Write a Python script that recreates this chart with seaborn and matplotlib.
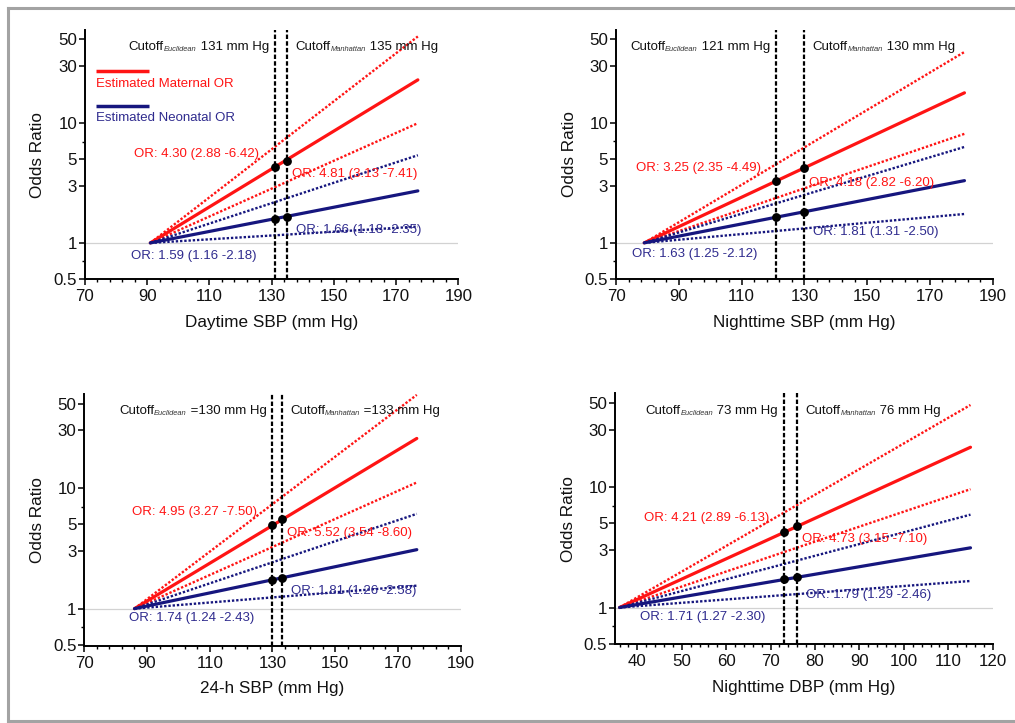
import numpy as np
import matplotlib
matplotlib.use("Agg")
import matplotlib.pyplot as plt
import seaborn as sns
from matplotlib.offsetbox import TextArea, HPacker, AnnotationBbox
from matplotlib.lines import Line2D
from matplotlib.ticker import FixedLocator, NullFormatter

# ------------------------------------------------------------------ data
x_labels = ["Daytime SBP (mm Hg)", "Nighttime SBP (mm Hg)",
            "24-h SBP (mm Hg)", "Nighttime DBP (mm Hg)"]
cutoff_euclidean = [131, 121, 130, 73]
cutoff_manhattan = [135, 130, 133, 76]
cutoff_joiner = [" ", " ", " =", " "]

maternal_or_euc = [4.30, 3.25, 4.95, 4.21]
maternal_lo_euc = [2.88, 2.35, 3.27, 2.89]
maternal_hi_euc = [6.42, 4.49, 7.50, 6.13]
maternal_or_man = [4.81, 4.18, 5.52, 4.73]
maternal_lo_man = [3.13, 2.82, 3.54, 3.15]
maternal_hi_man = [7.41, 6.20, 8.60, 7.10]

neonatal_or_euc = [1.59, 1.63, 1.74, 1.71]
neonatal_lo_euc = [1.16, 1.25, 1.24, 1.27]
neonatal_hi_euc = [2.18, 2.12, 2.43, 2.30]
neonatal_or_man = [1.66, 1.81, 1.81, 1.79]
neonatal_lo_man = [1.18, 1.31, 1.26, 1.29]
neonatal_hi_man = [2.35, 2.50, 2.58, 2.46]

# estimated OR lines: start at OR = 1, end values
line_x_start = [91, 79, 86, 36]
line_x_end = [177, 181, 176, 115]
maternal_end = [23.0, 17.8, 25.7, 21.4]
maternal_end_lo = [10.0, 8.1, 11.1, 9.6]
maternal_end_hi = [53.0, 39.0, 59.0, 48.0]
neonatal_end = [2.72, 3.30, 3.08, 3.13]
neonatal_end_lo = [1.37, 1.74, 1.55, 1.66]
neonatal_end_hi = [5.4, 6.3, 6.1, 5.9]

y_ticks = [0.5, 1, 3, 5, 10, 30, 50]
y_tick_labels = ["0.5", "1", "3", "5", "10", "30", "50"]
y_minor = [0.7, 7]

# ------------------------------------------------------------------ layout / style
W, H = 1015, 723
axes_px = [(85.0, 458.3, 30.0, 279.5), (616.0, 992.7, 29.5, 279.5),
           (84.3, 460.7, 394.0, 645.5), (615.1, 992.7, 393.3, 644.3)]
xlims = [(70, 190), (70, 190), (70, 190), (35, 120)]
x_major = [np.arange(70, 191, 20)] * 3 + [np.arange(40, 121, 10)]
x_minor = [np.arange(70, 191, 4)] * 3 + [np.arange(36, 121, 2)]
ylim = (0.495, 60)

# text positions in data coordinates (x, OR)
label_pos = [
    dict(ml=(126.0, 5.57), mr=(136.7, 3.79), nr=(137.8, 1.29), nl=(125.2, 0.772)),
    dict(ml=(116.2, 4.19), mr=(131.6, 3.14), nr=(132.9, 1.23), nl=(115.0, 0.811)),
    dict(ml=(125.0, 6.33), mr=(134.5, 4.24), nr=(135.8, 1.41), nl=(124.2, 0.837)),
    dict(ml=(69.6, 5.50), mr=(77.1, 3.69), nr=(77.9, 1.27), nl=(68.9, 0.833)),
]

RED = "#ff1414"
NAVY = "#16167e"
NAVY_TXT = "#2f2b8e"
SMALL = 9.5

sns.set_style("ticks")
plt.rcParams["font.family"] = ["Liberation Sans", "DejaVu Sans"]
plt.rcParams["axes.linewidth"] = 1.4

fig = plt.figure(figsize=(W / 100, H / 100), dpi=100)

# grey frame around the figure (top, left, bottom only)
fx0, fy_top, fy_bot = 8.3 / W, (H - 8.3) / H, (H - 720.8) / H
for xs_, ys_ in (([fx0, 1.0], [fy_top, fy_top]),
                 ([fx0, fx0], [fy_bot, fy_top]),
                 ([fx0, 1.0], [fy_bot, fy_bot])):
    fig.add_artist(Line2D(xs_, ys_, transform=fig.transFigure, color="#a3a3a3",
                          lw=2.2, solid_capstyle="projecting"))

dotted = (0, (1.0, 0.8))


def fmt(v):
    return f"{v:.2f}"


def cutoff_label(ax, x, sub, rest, right_side):
    main_kw = dict(size=SMALL, color="#111111")
    sub_kw = dict(size=5.4, color="#333333", style="italic")
    box = HPacker(children=[TextArea("Cutoff", textprops=main_kw),
                            TextArea(sub, textprops=sub_kw),
                            TextArea(rest, textprops=main_kw)],
                  align="bottom", pad=0, sep=0)
    if right_side:
        ab = AnnotationBbox(box, (x, 0.931), xycoords=("data", "axes fraction"),
                            xybox=(5.8, 0), boxcoords="offset points",
                            box_alignment=(0, 0.5), frameon=False, pad=0)
    else:
        ab = AnnotationBbox(box, (x, 0.931), xycoords=("data", "axes fraction"),
                            xybox=(-4.3, 0), boxcoords="offset points",
                            box_alignment=(1, 0.5), frameon=False, pad=0)
    ab.set_zorder(7)
    ax.add_artist(ab)


for i in range(4):
    l, r, t, b = axes_px[i]
    ax = fig.add_axes([l / W, (H - b) / H, (r - l) / W, (b - t) / H])
    ax.set_yscale("log")

    ax.axhline(1, color="#d2d2d2", lw=0.9, zorder=1)

    xs = [line_x_start[i], line_x_end[i]]
    # maternal
    sns.lineplot(x=xs, y=[1, maternal_end_hi[i]], ax=ax, color=RED, lw=1.7,
                 linestyle=dotted, estimator=None, zorder=3)
    sns.lineplot(x=xs, y=[1, maternal_end_lo[i]], ax=ax, color=RED, lw=1.7,
                 linestyle=dotted, estimator=None, zorder=3)
    sns.lineplot(x=xs, y=[1, maternal_end[i]], ax=ax, color=RED, lw=2.3,
                 estimator=None, zorder=3)
    # neonatal
    sns.lineplot(x=xs, y=[1, neonatal_end_hi[i]], ax=ax, color=NAVY, lw=1.7,
                 linestyle=dotted, estimator=None, zorder=3)
    sns.lineplot(x=xs, y=[1, neonatal_end_lo[i]], ax=ax, color=NAVY, lw=1.7,
                 linestyle=dotted, estimator=None, zorder=3)
    sns.lineplot(x=xs, y=[1, neonatal_end[i]], ax=ax, color=NAVY, lw=2.3,
                 estimator=None, zorder=3)

    for c in (cutoff_euclidean[i], cutoff_manhattan[i]):
        ax.axvline(c, color="black", lw=1.6, linestyle=(0, (2, 1)), zorder=4)

    sns.scatterplot(x=[cutoff_euclidean[i], cutoff_manhattan[i]],
                    y=[maternal_or_euc[i], maternal_or_man[i]],
                    ax=ax, color="black", s=40, linewidth=0, zorder=6, legend=False)
    sns.scatterplot(x=[cutoff_euclidean[i], cutoff_manhattan[i]],
                    y=[neonatal_or_euc[i], neonatal_or_man[i]],
                    ax=ax, color="black", s=40, linewidth=0, zorder=6, legend=False)

    p = label_pos[i]
    ax.text(*p["ml"], f"OR: {fmt(maternal_or_euc[i])} ({fmt(maternal_lo_euc[i])} -{fmt(maternal_hi_euc[i])})",
            color=RED, size=SMALL, ha="right", va="center", zorder=7)
    ax.text(*p["mr"], f"OR: {fmt(maternal_or_man[i])} ({fmt(maternal_lo_man[i])} -{fmt(maternal_hi_man[i])})",
            color=RED, size=SMALL, ha="left", va="center", zorder=7)
    ax.text(*p["nr"], f"OR: {fmt(neonatal_or_man[i])} ({fmt(neonatal_lo_man[i])} -{fmt(neonatal_hi_man[i])})",
            color=NAVY_TXT, size=SMALL, ha="left", va="center", zorder=7)
    ax.text(*p["nl"], f"OR: {fmt(neonatal_or_euc[i])} ({fmt(neonatal_lo_euc[i])} -{fmt(neonatal_hi_euc[i])})",
            color=NAVY_TXT, size=SMALL, ha="right", va="center", zorder=7)

    cutoff_label(ax, cutoff_euclidean[i], "Euclidean",
                 f"{cutoff_joiner[i]}{cutoff_euclidean[i]} mm Hg", right_side=False)
    cutoff_label(ax, cutoff_manhattan[i], "Manhattan",
                 f"{cutoff_joiner[i]}{cutoff_manhattan[i]} mm Hg", right_side=True)

    ax.set_xlim(*xlims[i])
    ax.set_ylim(*ylim)
    ax.xaxis.set_major_locator(FixedLocator(x_major[i]))
    ax.xaxis.set_minor_locator(FixedLocator(x_minor[i]))
    ax.set_xticklabels([str(v) for v in x_major[i]])
    ax.yaxis.set_major_locator(FixedLocator(y_ticks))
    ax.set_yticklabels(y_tick_labels)
    ax.yaxis.set_minor_locator(FixedLocator(y_minor))
    ax.yaxis.set_minor_formatter(NullFormatter())

    ax.tick_params(axis="x", which="major", length=4.6, width=1.1, pad=2.6,
                   labelsize=12.2, color="black", labelcolor="#111111")
    ax.tick_params(axis="x", which="minor", length=2.5, width=1.0, color="black")
    ax.tick_params(axis="y", which="major", length=4.0, width=1.1, pad=1.6,
                   labelsize=12.2, color="black", labelcolor="#111111")
    ax.tick_params(axis="y", which="minor", length=2.5, width=1.0, color="black")

    sns.despine(ax=ax)
    for s in ("left", "bottom"):
        ax.spines[s].set_color("black")

    ax.set_xlabel(x_labels[i], size=12.3, color="#111111")
    ax.set_ylabel("Odds Ratio", size=12.3, color="#111111")
    ax.xaxis.set_label_coords(0.5, -0.143)
    ax.yaxis.set_label_coords(-39.5 / (r - l), 0.5)

    if i == 0:
        ax.plot([0.0295, 0.1706], [0.837, 0.837], transform=ax.transAxes,
                color=RED, lw=2.5, solid_capstyle="butt")
        ax.text(0.0295, 0.782, "Estimated Maternal OR", transform=ax.transAxes,
                color=RED, size=SMALL, ha="left", va="center")
        ax.plot([0.0295, 0.1706], [0.695, 0.695], transform=ax.transAxes,
                color=NAVY, lw=2.5, solid_capstyle="butt")
        ax.text(0.0295, 0.646, "Estimated Neonatal OR", transform=ax.transAxes,
                color=NAVY_TXT, size=SMALL, ha="left", va="center")

fig.savefig("out.png", dpi=100)
